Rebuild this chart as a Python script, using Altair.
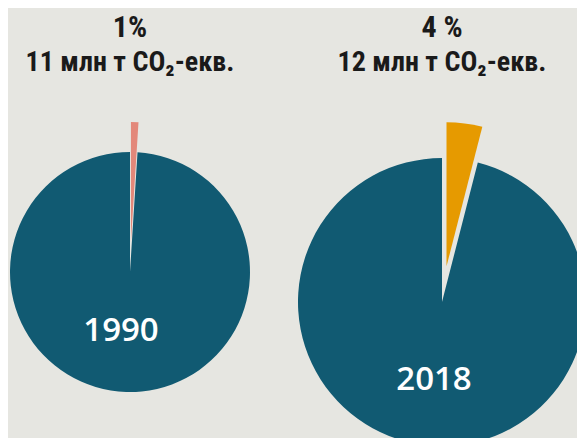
import math
import altair as alt
import pandas as pd

# ---- data ----
years = ["1990", "2018"]
shares = [1, 4]                 # percent of total
emissions = [11, 12]            # Mt CO2-eq
share_labels = ["1%", "4 %"]
unit = "млн т CO₂-екв."

# ---- style / layout ----
main_color = "#115a72"
slice_colors = ["#e3887a", "#e69a00"]
bg = "#e6e6e1"
centers = [(122, 264), (434, 294)]
radii = [120, 144]
explode = [30, 36]
label_off = [(-9, 69), (-8, 88)]
header_font = "Liberation Sans Narrow, Roboto Condensed, Arial Narrow, sans-serif"

theta_scale = alt.Scale(domain=[0, 100], range=[0, 2 * math.pi])

layers = []
for i, yr in enumerate(years):
    cx, cy = centers[i]
    r = radii[i]
    pie = pd.DataFrame({
        "part": ["rest", "share"],
        "start": [shares[i], 0],
        "end": [100, shares[i]],
    })
    main = alt.Chart(pie[pie.part == "rest"]).mark_arc(
        outerRadius=r, color=main_color
    ).encode(
        theta=alt.Theta("start:Q", scale=theta_scale, stack=None),
        theta2="end:Q",
        x=alt.value(cx), y=alt.value(cy),
    )
    mid = shares[i] / 100 * math.pi
    sl = alt.Chart(pie[pie.part == "share"]).mark_arc(
        outerRadius=r, color=slice_colors[i],
        xOffset=explode[i] * math.sin(mid), yOffset=-explode[i] * math.cos(mid),
    ).encode(
        theta=alt.Theta("start:Q", scale=theta_scale, stack=None),
        theta2="end:Q",
        x=alt.value(cx), y=alt.value(cy),
    )
    lab = alt.Chart(pd.DataFrame({"year": [yr]})).mark_text(
        font="Open Sans", fontSize=33, fontWeight=600, color="white",
        baseline="alphabetic",
        dx=label_off[i][0], dy=label_off[i][1],
    ).encode(text="year:N", x=alt.value(cx), y=alt.value(cy))
    head1 = alt.Chart(pd.DataFrame({"t": [share_labels[i]]})).mark_text(
        font=header_font, fontSize=30, fontWeight="bold", color="#1a1a1a",
        baseline="alphabetic",
    ).encode(text="t:N", x=alt.value(cx), y=alt.value(29))
    head2 = alt.Chart(pd.DataFrame({"t": [f"{emissions[i]} {unit}"]})).mark_text(
        font=header_font, fontSize=28, fontWeight="bold", color="#1a1a1a",
        baseline="alphabetic",
    ).encode(text="t:N", x=alt.value(cx), y=alt.value(63))
    layers += [main, sl, lab, head1, head2]

chart = alt.layer(*layers).properties(
    width=569, height=430,
    autosize=alt.AutoSizeParams(type="none"),
    padding=0,
).configure(background=bg).configure_view(stroke=None)

chart.save("out.html", embed_options={"renderer": "svg", "actions": False})
